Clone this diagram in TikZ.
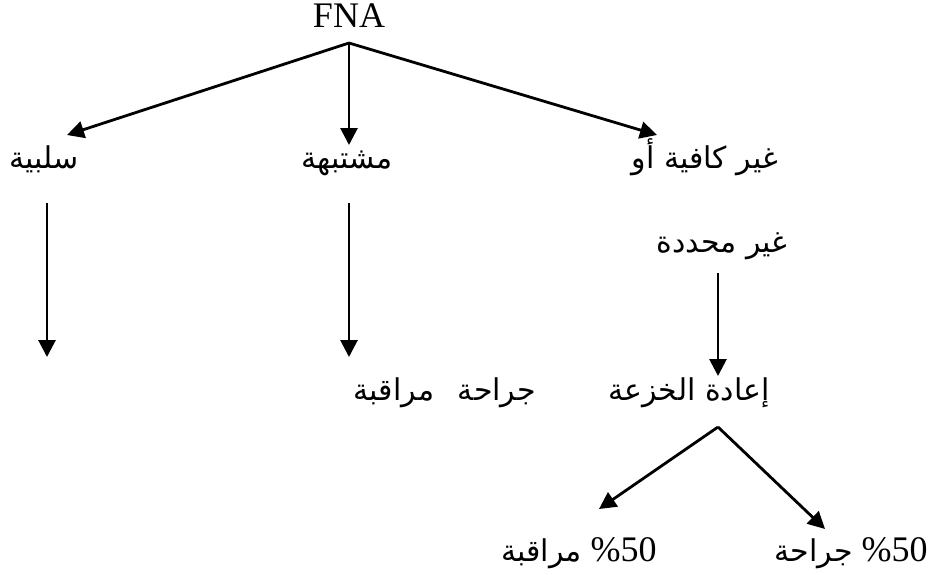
\documentclass[tikz,border=0pt]{standalone}
\usepackage{fontspec}
\setmainfont{Liberation Serif}
\newfontfamily\arabicfont[Script=Arabic]{DejaVu Sans}
\TeXXeTstate=1
\usetikzlibrary{arrows.meta}
\begin{document}
\begin{tikzpicture}[x=1pt,y=-1pt,
  arr/.style={-{Triangle[length=17pt,width=17pt]}, line width=2.8pt},
  ar/.style={font=\arabicfont\fontsize{30}{34}\selectfont, inner sep=0pt, anchor=base},
  lt/.style={font=\fontsize{36}{40}\selectfont, inner sep=0pt, anchor=base}]
\useasboundingbox (0,0) rectangle (946,574);
\node[lt] (fna) at (349,27) {FNA};
\node[ar] (neg) at (44,168) {\beginR سلبية\endR};
\node[ar] (susp) at (347,168) {\beginR مشتبهة\endR};
\node[ar] (ins1) at (705,168) {\beginR غير كافية أو\endR};
\node[ar] (ins2) at (722,252) {\beginR غير محددة\endR};
\node[ar] (rebx) at (689,400) {\beginR إعادة الخزعة\endR};
\node[ar] (surg) at (497,400) {\beginR جراحة\endR};
\node[ar] (obs) at (394,400) {\beginR مراقبة\endR};
\node[lt] (p1) at (851,561) {{\arabicfont\fontsize{30}{34}\selectfont\beginR جراحة\endR}\ \%50};
\node[lt] (p2) at (579,561) {{\arabicfont\fontsize{30}{34}\selectfont\beginR مراقبة\endR}\ \%50};
% fork points and free ends
\coordinate (f1) at (349,43);
\coordinate (t1) at (67,135);
\coordinate (t2) at (349,145);
\coordinate (t3) at (657,135);
\coordinate (a1) at (47,203);
\coordinate (b1) at (47,357);
\coordinate (a2) at (349,203);
\coordinate (b2) at (349,357);
\coordinate (a3) at (718,273);
\coordinate (b3) at (718,376);
\coordinate (f2) at (718,427);
\coordinate (t4) at (599,509);
\coordinate (t5) at (825,529);
\draw[arr] (f1) -- (t1);
\draw[arr] (f1) -- (t2);
\draw[arr] (f1) -- (t3);
\draw[arr] (a1) -- (b1);
\draw[arr] (a2) -- (b2);
\draw[arr] (a3) -- (b3);
\draw[arr] (f2) -- (t4);
\draw[arr] (f2) -- (t5);
\end{tikzpicture}
\end{document}
